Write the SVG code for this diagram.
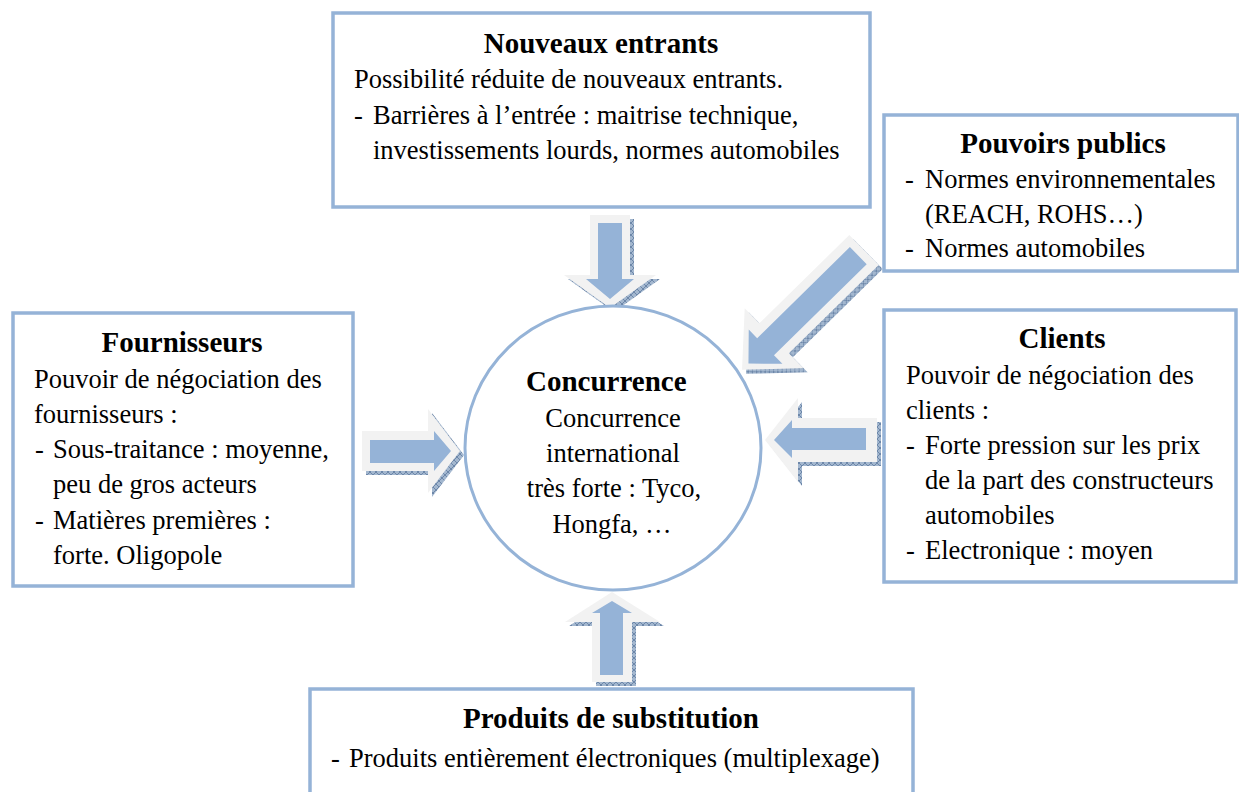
<svg xmlns="http://www.w3.org/2000/svg" width="1239" height="792" viewBox="0 0 1239 792">
<defs>
<style>
.box{fill:#ffffff;stroke:#95b3d7;stroke-width:3.5}
.t{font-family:"Liberation Serif","Times New Roman",serif;font-size:26.5px;fill:#000}
.h{font-family:"Liberation Serif","Times New Roman",serif;font-size:29px;font-weight:bold;fill:#000}
.mid{text-anchor:middle}
.outer{fill:#f2f2f2}
.blue{fill:#95b3d7}
.shadow{fill:url(#hatch)}
</style>
<pattern id="hatch" width="6" height="6" patternUnits="userSpaceOnUse">
<rect width="6" height="6" fill="#a3b7cf"/>
<path d="M0,6 L6,0 M0,0 L6,6" stroke="#5f7ba0" stroke-width="0.8"/>
</pattern>
</defs>
<rect width="1239" height="792" fill="#ffffff"/>

<g id="connectors">
  <g id="arrow-top">
    <g transform="translate(4,4)"><polygon class="shadow" points="590,215 630,215 630,275 656,275 610,308 564,275 590,275"/></g>
    <polygon class="outer" points="590,215 630,215 630,275 656,275 610,308 564,275 590,275"/>
    <polygon class="blue" points="598,223 622,223 622,279 634,279 610,299 586,279 598,279"/>
  </g>
  <g id="arrow-diag">
    <g transform="translate(4,4)"><polygon class="shadow" transform="translate(864,250) rotate(135.5)" points="0,-21 126,-21 126,-42 171,0 126,42 126,21 0,21"/></g>
    <polygon class="outer" transform="translate(864,250) rotate(135.5)" points="0,-21 126,-21 126,-42 171,0 126,42 126,21 0,21"/>
    <polygon class="blue" transform="translate(864,250) rotate(135.5)" points="8,-12 138,-12 138,-24 162,0 138,24 138,12 8,12"/>
  </g>
  <g id="arrow-left">
    <g transform="translate(4,4)"><polygon class="shadow" points="362,431 428,431 428,409 460,451 428,493 428,471 362,471"/></g>
    <polygon class="outer" points="362,431 428,431 428,409 460,451 428,493 428,471 362,471"/>
    <polygon class="blue" points="370,440 434,440 434,431 451,451 434,471 434,463 370,463"/>
  </g>
  <g id="arrow-right">
    <g transform="translate(4,4)"><polygon class="shadow" points="877,418 798,418 798,398 765,440 798,482 798,462 877,462"/></g>
    <polygon class="outer" points="877,418 798,418 798,398 765,440 798,482 798,462 877,462"/>
    <polygon class="blue" points="866,428 792,428 792,420 774,440 792,458 792,450 866,450"/>
  </g>
  <g id="arrow-bottom">
    <g transform="translate(4,4)"><polygon class="shadow" points="592,682 632,682 632,622 660,622 612,592 565,622 592,622"/></g>
    <polygon class="outer" points="592,682 632,682 632,622 660,622 612,592 565,622 592,622"/>
    <polygon class="blue" points="600,675 623,675 623,613 632,613 612,601 592,613 600,613"/>
  </g>
</g>

<g id="node-concurrence">
  <ellipse cx="613" cy="448" rx="148" ry="142" fill="#ffffff" stroke="#95b3d7" stroke-width="3"/>
  <text class="h" x="526" y="391">Concurrence</text>
  <text class="t mid" x="613" y="427">Concurrence</text>
  <text class="t mid" x="613" y="462">international</text>
  <text class="t mid" x="614" y="497">très forte : Tyco,</text>
  <text class="t mid" x="612" y="533">Hongfa, …</text>
</g>

<g id="node-nouveaux">
  <rect class="box" x="333" y="13" width="537" height="194"/>
  <text class="h mid" x="601" y="53">Nouveaux entrants</text>
  <text class="t" x="354" y="88">Possibilité réduite de nouveaux entrants.</text>
  <text class="t" x="354" y="123.5">-</text>
  <text class="t" x="373" y="123.5">Barrières à l’entrée : maitrise technique,</text>
  <text class="t" x="373" y="159">investissements lourds, normes automobiles</text>
</g>

<g id="node-pouvoirs">
  <rect class="box" x="884" y="115" width="354" height="156"/>
  <text class="h mid" x="1063" y="153">Pouvoirs publics</text>
  <text class="t" x="905" y="188">-</text>
  <text class="t" x="925" y="188">Normes environnementales</text>
  <text class="t" x="925" y="222.5">(REACH, ROHS…)</text>
  <text class="t" x="905" y="257">-</text>
  <text class="t" x="925" y="257">Normes automobiles</text>
</g>

<g id="node-fournisseurs">
  <rect class="box" x="13" y="313" width="340" height="273"/>
  <text class="h mid" x="182" y="352">Fournisseurs</text>
  <text class="t" x="34" y="388">Pouvoir de négociation des</text>
  <text class="t" x="34" y="423">fournisseurs :</text>
  <text class="t" x="35" y="458">-</text>
  <text class="t" x="53" y="458">Sous-traitance : moyenne,</text>
  <text class="t" x="53" y="493">peu de gros acteurs</text>
  <text class="t" x="35" y="529">-</text>
  <text class="t" x="53" y="529">Matières premières :</text>
  <text class="t" x="53" y="564">forte. Oligopole</text>
</g>

<g id="node-clients">
  <rect class="box" x="884" y="310" width="352" height="272"/>
  <text class="h mid" x="1062" y="348">Clients</text>
  <text class="t" x="906" y="384">Pouvoir de négociation des</text>
  <text class="t" x="906" y="419">clients :</text>
  <text class="t" x="906" y="454">-</text>
  <text class="t" x="925" y="454">Forte pression sur les prix</text>
  <text class="t" x="925" y="489">de la part des constructeurs</text>
  <text class="t" x="925" y="524">automobiles</text>
  <text class="t" x="906" y="559">-</text>
  <text class="t" x="925" y="559">Electronique : moyen</text>
</g>

<g id="node-produits">
  <rect class="box" x="310" y="689" width="603" height="130"/>
  <text class="h mid" x="611" y="728">Produits de substitution</text>
  <text class="t" x="331" y="767">-</text>
  <text class="t" x="349" y="767">Produits entièrement électroniques (multiplexage)</text>
</g>
</svg>
